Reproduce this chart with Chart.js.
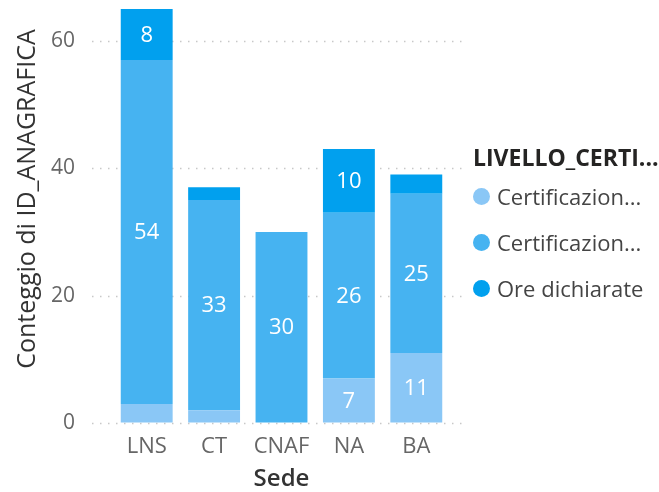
<!DOCTYPE html>
<html>
<head>
<meta charset="utf-8">
<script src="https://cdn.jsdelivr.net/npm/chart.js@4.4.0/dist/chart.umd.min.js"></script>
<style>
  html, body { margin: 0; padding: 0; background: #fff; }
  #wrap { position: relative; width: 659px; height: 492px; }
  #legend { position: absolute; left: 473px; top: 141px; font-family: "Open Sans", sans-serif; }
  #legend .title { font-size: 23px; font-weight: 700; color: #252423; height: 32px; line-height: 32px; white-space: nowrap; }
  #legend .item { display: flex; align-items: center; height: 46px; font-size: 22px; color: #444; white-space: nowrap; }
  #legend .dot { width: 17px; height: 17px; border-radius: 50%; margin-right: 7px; flex: none; }
</style>
</head>
<body>
<div id="wrap">
  <canvas id="chart" width="659" height="492"></canvas>
  <div id="legend"></div>
</div>
<script>
const sedi = ["LNS", "CT", "CNAF", "NA", "BA"];
const legendTitle = "LIVELLO_CERTI...";
const seriesNames = ["Certificazion...", "Certificazion...", "Ore dichiarate"];
const certificazioneA = [3, 2, 0, 7, 11];
const certificazioneB = [54, 33, 30, 26, 25];
const oreDichiarate = [8, 2, 0, 10, 3];
const seriesColors = ["#8AC7F6", "#46B3F1", "#01A0EE"];
const yTicks = [0, 20, 40, 60];
const yTitle = "Conteggio di ID_ANAGRAFICA";
const xTitle = "Sede";

const FONT = '"Open Sans", sans-serif';

// dotted horizontal grid, wider than the bar area like Power BI
const gridPlugin = {
    id: 'dottedGrid',
    beforeDatasetsDraw(chart) {
        const ctx = chart.ctx;
        const y = chart.scales.y;
        ctx.save();
        ctx.strokeStyle = '#C8C8C8';
        ctx.lineWidth = 1.5;
        ctx.setLineDash([1.5, 6.5]);
        y.ticks.forEach(t => {
            const py = Math.round(y.getPixelForValue(t.value)) + 0.5;
            ctx.beginPath();
            ctx.moveTo(92, py);
            ctx.lineTo(468, py);
            ctx.stroke();
        });
        ctx.restore();
    }
};

// white value labels inside the segments (small ones are skipped)
const labelPlugin = {
    id: 'segLabels',
    afterDatasetsDraw(chart) {
        const ctx = chart.ctx;
        ctx.save();
        ctx.fillStyle = '#fff';
        ctx.font = '22px ' + FONT;
        ctx.textAlign = 'center';
        ctx.textBaseline = 'middle';
        chart.data.datasets.forEach((ds, i) => {
            chart.getDatasetMeta(i).data.forEach((bar, j) => {
                const v = ds.data[j];
                if (v < 5) return;
                ctx.fillText(String(v), bar.x, (bar.y + bar.base) / 2 + 1);
            });
        });
        ctx.restore();
    }
};

// rotated y title, centred where Power BI puts it
const yTitlePlugin = {
    id: 'yTitle',
    afterDraw(chart) {
        const ctx = chart.ctx;
        ctx.save();
        ctx.translate(28, 199);
        ctx.rotate(-Math.PI / 2);
        ctx.fillStyle = '#333';
        ctx.font = '25px ' + FONT;
        ctx.textAlign = 'center';
        ctx.textBaseline = 'middle';
        ctx.fillText(yTitle, 0, 0);
        ctx.restore();
    }
};

const datasets = [certificazioneA, certificazioneB, oreDichiarate].map((d, i) => ({
    label: seriesNames[i],
    data: d,
    backgroundColor: seriesColors[i],
    borderWidth: 0,
    barPercentage: 0.77,
    categoryPercentage: 1
}));

new Chart(document.getElementById('chart'), {
    type: 'bar',
    plugins: [gridPlugin, labelPlugin, yTitlePlugin],
    data: { labels: sedi, datasets },
    options: {
        responsive: false,
        animation: false,
        layout: { padding: { left: 0, right: 209, top: 9, bottom: 0 } },
        plugins: { legend: { display: false }, tooltip: { enabled: false } },
        scales: {
            x: {
                stacked: true,
                grid: { display: false },
                border: { display: false },
                ticks: { color: '#666', font: { family: FONT, size: 22 }, padding: 3 },
                title: { display: true, text: xTitle, color: '#333', font: { family: FONT, size: 24, weight: 600, lineHeight: 1.1 }, padding: { top: 0, bottom: 0 } },
                afterFit: s => { s.height = 69; }
            },
            y: {
                stacked: true,
                min: 0,
                max: 65,
                grid: { display: true, drawOnChartArea: false, drawTicks: true, tickLength: 38, tickColor: 'rgba(0,0,0,0)' },
                border: { display: false },
                afterBuildTicks: s => { s.ticks = yTicks.map(v => ({ value: v })); },
                ticks: { color: '#666', font: { family: FONT, size: 21, lineHeight: 0.85 }, padding: 0 },
                afterFit: s => { s.width = 113; }
            }
        }
    }
});

// legend
const lg = document.getElementById('legend');
lg.innerHTML = '<div class="title">' + legendTitle + '</div>' +
    seriesNames.map((n, i) =>
        '<div class="item"><span class="dot" style="background:' + seriesColors[i] + '"></span>' + n + '</div>'
    ).join('');
</script>
</body>
</html>
